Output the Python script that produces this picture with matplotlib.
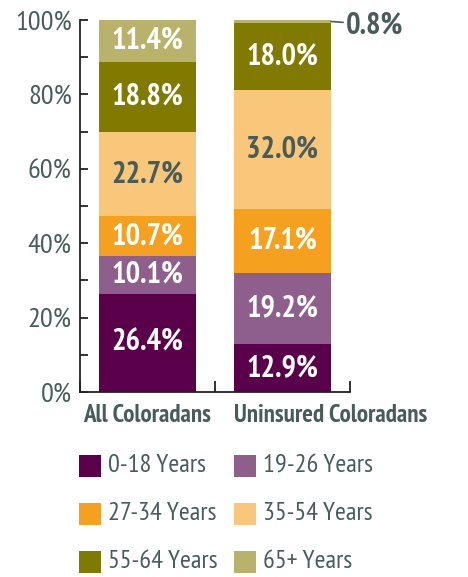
import matplotlib
matplotlib.use("Agg")
import matplotlib.pyplot as plt
from matplotlib.patches import Rectangle

FAM = ['PT Sans Narrow', 'Fira Sans Condensed', 'DejaVu Sans']

categories = ["All Coloradans", "Uninsured Coloradans"]
groups = ["0-18 Years", "19-26 Years", "27-34 Years", "35-54 Years", "55-64 Years", "65+ Years"]
values = {
    "All Coloradans":       [26.4, 10.1, 10.7, 22.7, 18.8, 11.4],
    "Uninsured Coloradans": [12.9, 19.2, 17.1, 32.0, 18.0, 0.8],
}
colors = ["#5a004a", "#8e5f8c", "#f5a11f", "#f9c77a", "#807a00", "#b8b26a"]
label_colors = ["white", "white", "white", "#485c5c", "white", "white"]
TXT = "#485c5c"
W, H = 468, 577

fig = plt.figure(figsize=(4.68, 5.77), dpi=100)
ax = fig.add_axes([80 / W, 1 - 392 / H, 270 / W, 372 / H])

for i, cat in enumerate(categories):
    bottom = 0
    for j, v in enumerate(values[cat]):
        ax.bar(i, v, bottom=bottom, width=0.72, color=colors[j], linewidth=0)
        if v > 3:
            ax.text(i, bottom + v / 2, f"{v:.1f}%", ha='center', va='center',
                    color=label_colors[j], fontsize=22, fontweight='bold', family=FAM)
        bottom += v

# small 0.8% callout
top_u = sum(values["Uninsured Coloradans"])
v08 = values["Uninsured Coloradans"][5]
ax.annotate(f"{v08:.1f}%", xy=(1.36, top_u - v08 / 2), xytext=(1.47, top_u - v08 / 2 - 1.2),
            ha='left', va='center', color=TXT, fontsize=22, fontweight='bold', family=FAM,
            arrowprops=dict(arrowstyle='-', color=TXT, lw=1.2, shrinkA=0, shrinkB=0,
                            relpos=(0, 0.62)),
            annotation_clip=False)

ax.set_xlim(-0.5, 1.5)
ax.set_ylim(0, 100)
ax.set_yticks(range(0, 101, 10))
ax.set_yticklabels([f"{t}%" if t % 20 == 0 else "" for t in range(0, 101, 10)],
                   family=FAM, fontsize=20.5, color=TXT)
ax.set_xticks([-0.5, 0.5, 1.5])
ax.set_xticklabels([])
ax.text(0, -3.3, categories[0], ha='center', va='top', fontsize=18, fontweight='bold',
        color=TXT, family=FAM)
ax.text(1 - 0.36, -3.3, categories[1], ha='left', va='top', fontsize=18, fontweight='bold',
        color=TXT, family=FAM)
for s in ['top', 'right']:
    ax.spines[s].set_visible(False)
for s in ['left', 'bottom']:
    ax.spines[s].set_color('#222222')
    ax.spines[s].set_linewidth(1.3)
ax.tick_params(axis='y', direction='in', length=6, width=1.3, color='#222222', pad=6)
ax.tick_params(axis='x', direction='in', length=8, width=1.3, color='#222222')

# legend (two columns, three rows)
col_x = [79, 234]
row_y = [466, 514, 562]
for k, g in enumerate(groups):
    x0 = col_x[k % 2]
    yc = row_y[k // 2]
    fig.patches.append(Rectangle((x0 / W, 1 - (yc + 11) / H), 22 / W, 22 / H,
                                 transform=fig.transFigure, facecolor=colors[k],
                                 edgecolor='none'))
    fig.text((x0 + 29) / W, 1 - yc / H, g, ha='left', va='center', fontsize=19,
             color=TXT, family=FAM)

fig.savefig("out.png", dpi=100)
